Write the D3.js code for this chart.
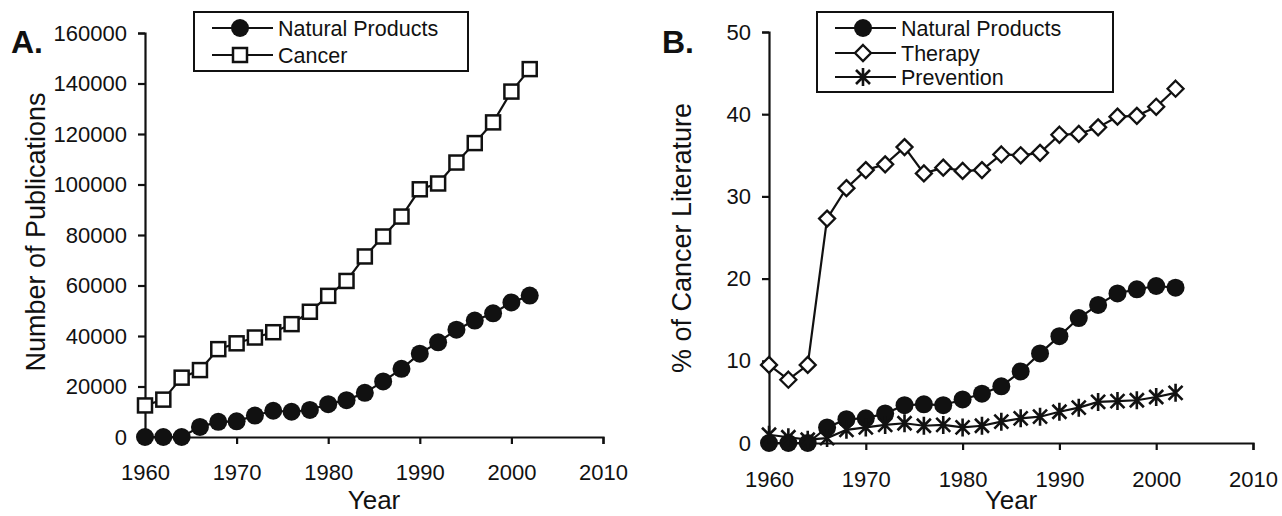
<!DOCTYPE html>
<html>
<head>
<meta charset="utf-8">
<script src="https://cdn.jsdelivr.net/npm/d3@7"></script>
<style>
body { margin: 0; background: #fff; }
svg { display: block; font-family: "Liberation Sans", Arial, sans-serif; }
.axis path, .axis line { stroke: #111; stroke-width: 2.2; }
.axis text { font-size: 22px; fill: #111; font-family: "Liberation Sans", Arial, sans-serif; }
.line { fill: none; stroke: #111; stroke-width: 2.2; }
</style>
</head>
<body>
<svg width="1282" height="516"></svg>
<script>
var years = [1960, 1962, 1964, 1966, 1968, 1970, 1972, 1974, 1976, 1978, 1980,
             1982, 1984, 1986, 1988, 1990, 1992, 1994, 1996, 1998, 2000, 2002];

// panel A: number of publications
var pubsNatural = [0, 0, 0, 4000, 6000, 6200, 8500, 10400, 10000, 10700, 13000,
                   14600, 17500, 22000, 27000, 33000, 37500, 42500, 46100, 49000, 53300, 56000];
var pubsCancer = [12500, 14800, 23500, 26500, 34800, 37100, 39400, 41500, 44700, 49600, 55900,
                  61800, 71500, 79400, 87300, 98100, 100400, 108700, 116400, 124600, 136800, 145700];

// panel B: % of cancer literature
var pctNatural = [0, 0, 0, 1.9, 2.9, 3.0, 3.6, 4.6, 4.7, 4.6, 5.3,
                  6.0, 6.9, 8.7, 10.9, 13.0, 15.2, 16.8, 18.2, 18.7, 19.1, 18.9];
var pctTherapy = [9.5, 7.7, 9.5, 27.3, 31.0, 33.2, 33.9, 36.0, 32.8, 33.5, 33.1,
                  33.2, 35.1, 35.0, 35.3, 37.5, 37.6, 38.4, 39.7, 39.8, 40.9, 43.1];
var pctPrevention = [1.0, 0.7, 0.4, 0.6, 1.6, 1.9, 2.2, 2.4, 2.1, 2.2, 1.9,
                     2.1, 2.6, 3.0, 3.2, 3.8, 4.3, 5.0, 5.1, 5.2, 5.6, 6.1];

var yearTicks = [1960, 1970, 1980, 1990, 2000, 2010];
var pubsTicks = [0, 20000, 40000, 60000, 80000, 100000, 120000, 140000, 160000];
var pctTicks = [0, 10, 20, 30, 40, 50];

var svg = d3.select("svg");
svg.append("rect").attr("width", 1282).attr("height", 516).attr("fill", "#fff");

function marker(g, type) {
  if (type == "circle") {
    g.append("circle").attr("r", 9).attr("fill", "#111");
  } else if (type == "square") {
    g.append("rect").attr("x", -7).attr("y", -7).attr("width", 14).attr("height", 14)
      .attr("fill", "#fff").attr("stroke", "#111").attr("stroke-width", 2.5);
  } else if (type == "diamond") {
    g.append("path").attr("d", "M0,-8L8,0L0,8L-8,0Z")
      .attr("fill", "#fff").attr("stroke", "#111").attr("stroke-width", 2.3);
  } else {
    g.append("path").attr("d", "M0,-9V9M-7,-7L7,7M-7,7L7,-7")
      .attr("fill", "none").attr("stroke", "#111").attr("stroke-width", 2.6);
  }
}

function panel(p) {
  var x = d3.scaleLinear().domain([1960, 2010]).range([p.left, p.right]);
  var y = d3.scaleLinear().domain(p.yDomain).range([p.bottom, p.top]);

  svg.append("g")
    .attr("class", "axis")
    .attr("transform", "translate(0," + p.bottom + ")")
    .call(d3.axisBottom(x).tickValues(yearTicks).tickFormat(d3.format("d")).tickSize(7).tickSizeOuter(7))
    .selectAll("text").attr("y", p.xLabelY).attr("dy", 0);

  svg.append("g")
    .attr("class", "axis")
    .attr("transform", "translate(" + p.left + ",0)")
    .call(d3.axisLeft(y).tickValues(p.yTicks).tickFormat(d3.format("d")).tickSize(7).tickSizeOuter(7).tickPadding(11));

  svg.append("text")
    .attr("transform", "translate(" + p.yTitleX + "," + p.yTitleY + ")rotate(-90)")
    .attr("text-anchor", "middle")
    .style("font-size", "27px")
    .attr("fill", "#111")
    .text(p.yTitle);

  svg.append("text")
    .attr("x", (p.left + p.right) / 2)
    .attr("y", p.xTitleY)
    .attr("text-anchor", "middle")
    .style("font-size", "26px")
    .attr("fill", "#111")
    .text("Year");

  svg.append("text")
    .attr("x", p.tagX)
    .attr("y", 53)
    .style("font-size", "32px")
    .style("font-weight", "bold")
    .attr("fill", "#111")
    .text(p.tag);

  var line = d3.line()
    .x(function(d, i) { return x(years[i]); })
    .y(function(d) { return y(d); });

  p.series.forEach(function(s) {
    svg.append("path").attr("class", "line").attr("d", line(s.values));
    svg.append("g").selectAll("g")
      .data(s.values)
      .enter().append("g")
      .attr("transform", function(d, i) { return "translate(" + x(years[i]) + "," + y(d) + ")"; })
      .each(function() { marker(d3.select(this), s.marker); });
  });

  // legend
  var lg = svg.append("g");
  lg.append("rect")
    .attr("x", p.legend.x).attr("y", 12)
    .attr("width", p.legend.w).attr("height", p.legend.h)
    .attr("fill", "#fff").attr("stroke", "#111").attr("stroke-width", 2);
  p.series.forEach(function(s, i) {
    var ly = p.legend.rows[i];
    lg.append("line")
      .attr("x1", p.legend.x + 18).attr("x2", p.legend.x + 79)
      .attr("y1", ly).attr("y2", ly)
      .attr("stroke", "#111").attr("stroke-width", 2.2);
    var m = lg.append("g").attr("transform", "translate(" + (p.legend.x + 46) + "," + ly + ")");
    marker(m, s.marker);
    lg.append("text")
      .attr("x", p.legend.x + 84)
      .attr("y", ly + 8)
      .style("font-size", "21.5px")
      .attr("fill", "#111")
      .text(s.name);
  });
}

panel({
  left: 145, right: 603, top: 33, bottom: 437,
  yDomain: [0, 160000], yTicks: pubsTicks,
  xLabelY: 43, xTitleY: 509,
  yTitle: "Number of Publications", yTitleX: 45, yTitleY: 232,
  tag: "A.", tagX: 11,
  legend: { x: 194, w: 274, h: 59, rows: [28, 55] },
  series: [
    { name: "Natural Products", values: pubsNatural, marker: "circle" },
    { name: "Cancer", values: pubsCancer, marker: "square" }
  ]
});

panel({
  left: 769, right: 1253, top: 32, bottom: 443,
  yDomain: [0, 50], yTicks: pctTicks,
  xLabelY: 44, xTitleY: 509,
  yTitle: "% of Cancer Literature", yTitleX: 691, yTitleY: 238,
  tag: "B.", tagX: 662,
  legend: { x: 817, w: 296, h: 80, rows: [28, 53, 77] },
  series: [
    { name: "Natural Products", values: pctNatural, marker: "circle" },
    { name: "Therapy", values: pctTherapy, marker: "diamond" },
    { name: "Prevention", values: pctPrevention, marker: "star" }
  ]
});
</script>
</body>
</html>
